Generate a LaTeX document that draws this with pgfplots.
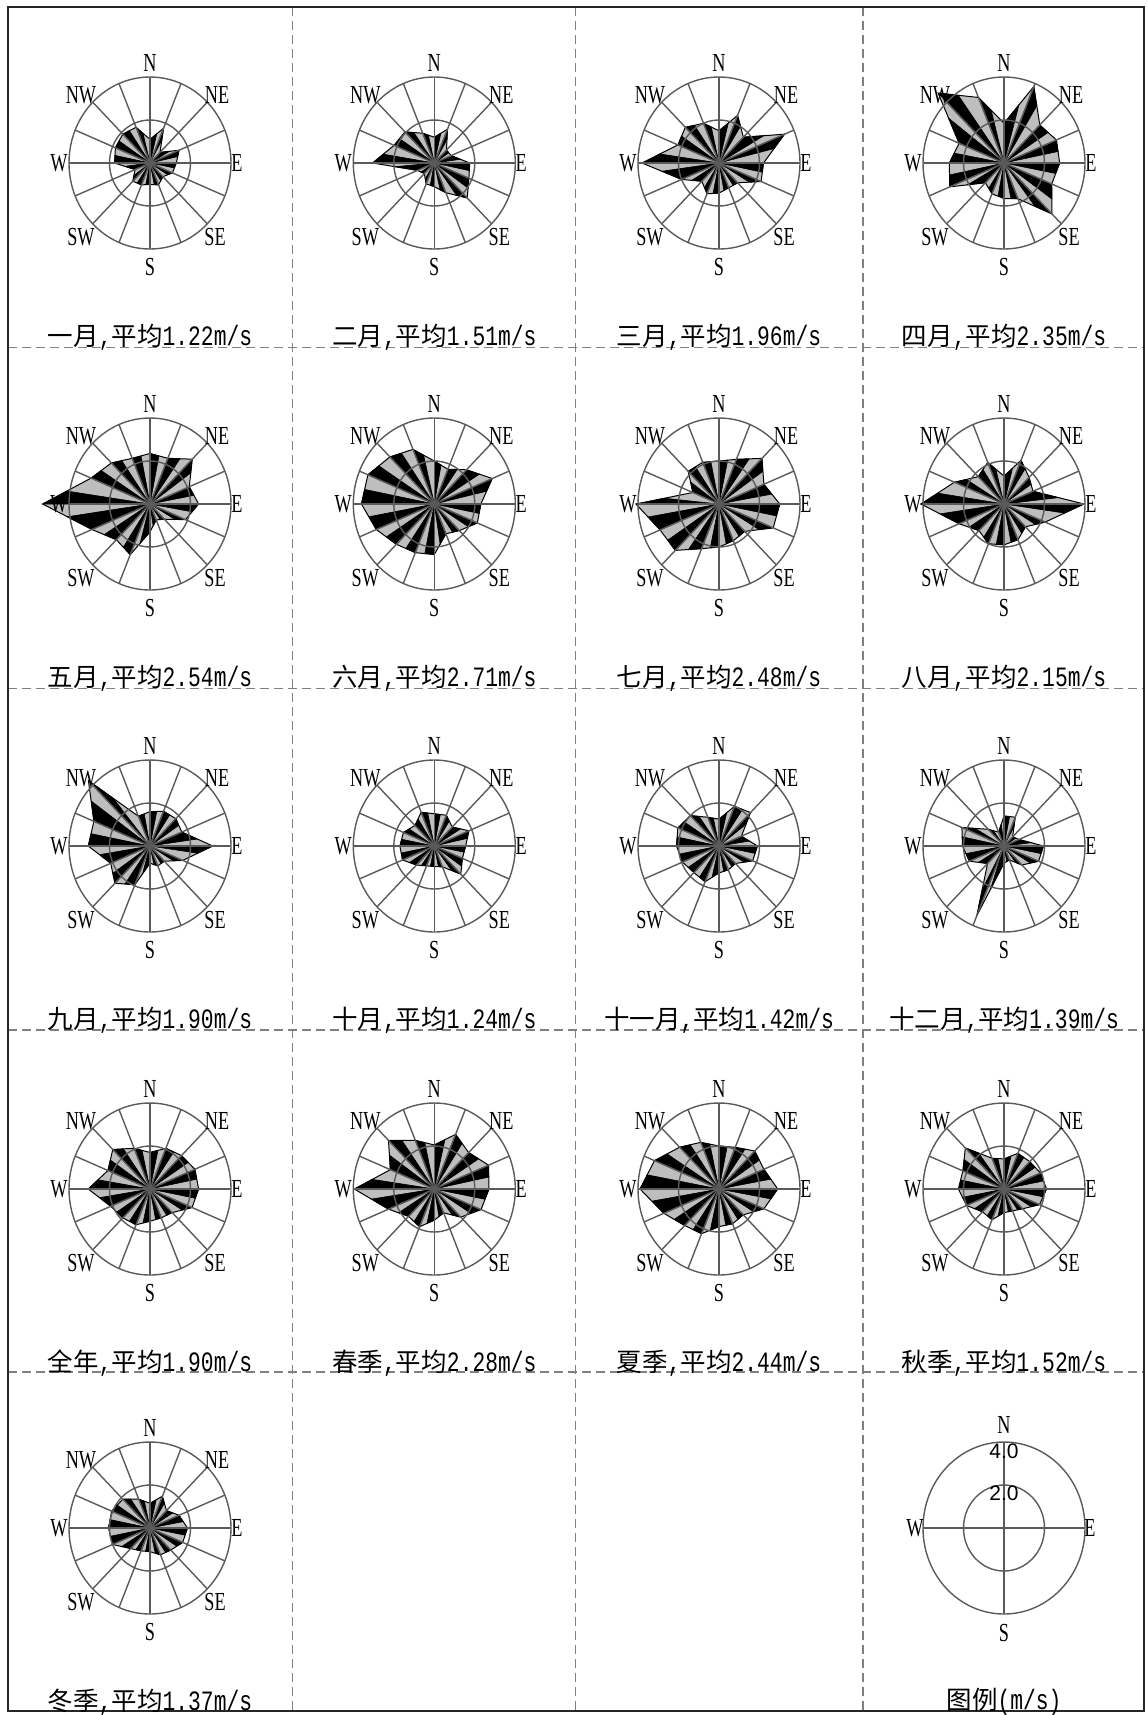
\documentclass[border=0pt]{standalone}
\usepackage{fontspec}
\usepackage{pgfplots}
\pgfplotsset{compat=1.18}
\setmainfont{Liberation Serif}
\newfontfamily\cjk{Noto Sans CJK SC}
\newfontfamily\capmono{Liberation Mono}[FakeStretch=0.76]
\newfontfamily\labfont{Liberation Serif}[FakeStretch=0.7]
\definecolor{roseg}{RGB}{190,190,190}
\definecolor{gridc}{RGB}{90,90,90}

% 1 px of the reference = 0.5pt; 4.0 m/s = 81 px across, 86 px up
\pgfplotsset{rose/.style={hide axis, clip=false, x=10.125pt, y=10.75pt,
  xmin=-6, xmax=6, ymin=-6, ymax=6, anchor=origin}}

\newcommand\capfont{\capmono\fontsize{14}{15}\selectfont}
\newcommand\rcap[2]{{\cjk #1}{\capfont,}{\cjk 平均}{\capfont #2m/s}}

% speeds: N, NNE, NE, ... NNW (clockwise)
\newcommand\buildrose[1]{%
  \gdef\polyc{}\gdef\blackc{}%
  \foreach \i in {0,...,15}{%
    \pgfmathtruncatemacro\j{mod(\i+1,16)}%
    \pgfmathsetmacro\ra{{#1}[\i]}%
    \pgfmathsetmacro\rb{{#1}[\j]}%
    \pgfmathsetmacro\xa{\ra*cos(90-22.5*\i)}%
    \pgfmathsetmacro\ya{\ra*sin(90-22.5*\i)}%
    \pgfmathsetmacro\xm{(\xa+\rb*cos(90-22.5*\j))/2}%
    \pgfmathsetmacro\ym{(\ya+\rb*sin(90-22.5*\j))/2}%
    \xdef\polyc{\polyc(\xa,\ya)}%
    \xdef\blackc{\blackc(0,0)(\xa,\ya)(\xm,\ym)}%
  }%
}

\newcommand\rosegrid{%
  \draw[gridc, line width=0.7pt] (0,0) ellipse [x radius=40.5pt, y radius=43pt];
  \draw[gridc, line width=0.7pt] (0,0) ellipse [x radius=20.25pt, y radius=21.5pt];
  \foreach \a in {0,22.5,...,337.5}
    \draw[gridc, line width=0.7pt] (0,0) -- ({40.5pt*cos(\a)},{43pt*sin(\a)});
  \begin{scope}[every node/.style={font=\labfont\fontsize{13}{13}\selectfont, inner sep=0pt}]
    \node at (0,50pt) {N};
    \node at (0,-52pt) {S};
    \node at (43.5pt,0) {E};
    \node at (-45.5pt,0) {W};
    \node at (33.5pt,34pt) {NE};
    \node at (32.5pt,-37pt) {SE};
    \node at (-34.5pt,-37pt) {SW};
    \node at (-34.5pt,34pt) {NW};
  \end{scope}
}

\newcommand\rose[4]{%
  \buildrose{#4}%
  \begin{axis}[rose, at={(#1,#2)}]
    \edef\tmp{\noexpand\addplot[draw=black, line width=0.5pt, fill=roseg] coordinates {\polyc} -- cycle;}\tmp
    \edef\tmp{\noexpand\addplot[draw=black, line width=0.3pt, fill=black] coordinates {\blackc (0,0)} -- cycle;}\tmp
  \end{axis}
  \begin{scope}[shift={(#1,#2)}]
    \rosegrid
    \node[anchor=base, inner sep=0pt, font=\fontsize{12.75}{15}\selectfont] at (0,-91pt) {#3};
  \end{scope}
}

\begin{document}
\begin{tikzpicture}
\path[use as bounding box] (0,0) rectangle (573.5pt,-857.5pt);
% frame and cell separators
\foreach \x in {146.3pt,287.75pt,431.5pt}
  \draw[gray, line width=0.6pt, dash pattern=on 4.5pt off 2.5pt] (\x,-3.5pt) -- (\x,-855.5pt);
\foreach \y in {-173.85pt,-344.4pt,-515pt,-686pt}
  \draw[gray, line width=0.6pt, dash pattern=on 4.5pt off 2.5pt] (4pt,\y) -- (572pt,\y);
\draw[black!85, line width=1pt] (4pt,-3.5pt) rectangle (572pt,-855.5pt);

\rose{75pt}{-81.5pt}{\rcap{一月}{1.22}}{1.1,1.75,0.7,1.55,1.3,1.2,0.9,1.1,1.0,1.1,1.2,0.8,1.75,1.85,1.9,1.8}
\rose{217.15pt}{-81.5pt}{\rcap{二月}{1.51}}{1.2,1.7,0.85,0.9,1.75,1.85,2.3,1.5,1.1,1.05,0.7,0.9,3.05,2.15,2.05,1.5}
\rose{359.5pt}{-81.5pt}{\rcap{三月}{1.96}}{1.5,2.4,1.7,3.5,2.2,2.25,1.3,1.25,1.4,1.55,1.2,2.0,3.8,2.2,2.35,2.0}
\rose{502pt}{-81.5pt}{\rcap{四月}{2.35}}{1.85,3.85,2.5,2.8,2.75,2.55,3.35,1.8,1.65,1.55,1.3,2.9,2.7,2.4,4.6,3.3}

\rose{75pt}{-252pt}{\rcap{五月}{2.54}}{2.35,2.3,2.95,2.1,2.4,1.9,1.0,0.8,1.3,2.55,2.35,3.1,5.3,3.15,2.7,2.3}
\rose{217.15pt}{-252pt}{\rcap{六月}{2.71}}{2.0,1.75,2.25,3.1,2.3,2.3,1.75,1.5,2.35,2.45,2.65,3.1,3.6,3.55,3.1,2.75}
\rose{359.5pt}{-252pt}{\rcap{七月}{2.48}}{2.0,2.25,3.0,2.4,3.0,2.9,1.8,1.85,2.0,2.25,3.05,3.15,4.1,1.4,2.15,2.1}
\rose{502pt}{-252pt}{\rcap{八月}{2.15}}{1.3,2.2,1.75,1.55,3.95,2.2,1.5,1.8,1.9,2.0,1.75,2.4,4.1,2.65,1.8,2.1}

\rose{75pt}{-423pt}{\rcap{九月}{1.90}}{1.6,1.75,1.8,1.7,3.1,1.75,1.0,1.0,0.8,1.95,2.45,2.1,3.05,3.0,4.3,1.5}
\rose{217.15pt}{-423pt}{\rcap{十月}{1.24}}{1.5,1.55,1.25,1.85,1.55,1.5,1.85,1.05,0.95,1.0,1.25,1.7,1.7,1.65,1.35,1.7}
\rose{359.5pt}{-423pt}{\rcap{十一月}{1.42}}{1.25,2.0,2.2,1.2,1.9,1.8,1.15,1.2,1.25,1.8,1.75,1.95,2.1,2.2,2.0,1.45}
\rose{502pt}{-423pt}{\rcap{十二月}{1.39}}{1.4,1.45,0.6,0.8,1.95,1.85,1.25,0.7,0.8,3.5,1.15,1.85,2.05,2.25,1.1,0.7}

\rose{75pt}{-594.5pt}{\rcap{全年}{1.90}}{1.7,2.05,2.2,2.4,2.4,2.25,1.55,1.45,1.5,1.8,1.9,2.1,3.05,2.25,2.6,2.05}
\rose{217.15pt}{-594.5pt}{\rcap{春季}{2.28}}{2.05,2.75,2.4,2.9,2.7,2.5,1.85,1.2,1.45,1.9,1.8,2.45,3.95,2.35,3.2,2.45}
\rose{359.5pt}{-594.5pt}{\rcap{夏季}{2.44}}{2.0,2.1,2.5,2.4,2.9,2.4,1.7,1.75,1.75,2.25,2.4,2.95,3.9,3.45,2.75,2.35}
\rose{502pt}{-594.5pt}{\rcap{秋季}{1.52}}{1.4,1.8,1.8,1.95,2.1,1.9,1.3,1.1,1.1,1.55,1.5,2.0,2.25,2.2,2.7,1.55}

\rose{75pt}{-764pt}{\rcap{冬季}{1.37}}{1.15,1.6,1.15,1.55,1.85,1.75,1.45,1.35,1.1,1.15,1.35,2.0,2.05,2.05,1.9,1.45}

% legend
\begin{scope}[shift={(502pt,-764pt)}]
  \draw[gridc, line width=0.7pt] (0,0) ellipse [x radius=40.5pt, y radius=43pt];
  \draw[gridc, line width=0.7pt] (0,0) ellipse [x radius=20.25pt, y radius=21.5pt];
  \draw[gridc, line width=0.7pt] (-40.5pt,0) -- (40.5pt,0);
  \draw[gridc, line width=0.7pt] (0,-43pt) -- (0,43pt);
  \begin{scope}[every node/.style={font=\labfont\fontsize{13}{13}\selectfont, inner sep=0pt}]
    \node at (0,51.5pt) {N};
    \node at (0,-52.5pt) {S};
    \node at (43pt,0) {E};
    \node at (-44.5pt,0) {W};
  \end{scope}
  \node[font=\fontspec{Liberation Sans}\fontsize{10.5}{11}\selectfont, inner sep=0pt] at (0,38.5pt) {4.0};
  \node[font=\fontspec{Liberation Sans}\fontsize{10.5}{11}\selectfont, inner sep=0pt] at (0,17.5pt) {2.0};
  \node[anchor=base, inner sep=0pt, font=\fontsize{12.75}{15}\selectfont] at (0,-90.5pt) {{\cjk 图例}{\capfont(m/s)}};
\end{scope}
\end{tikzpicture}
\end{document}
